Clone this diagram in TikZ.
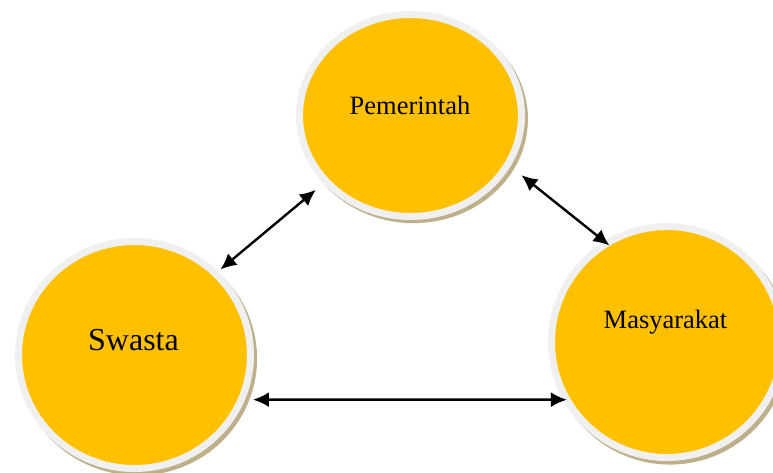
\documentclass[tikz,border=0pt]{standalone}
\usepackage{fontspec}
\setmainfont{Liberation Serif}
\usetikzlibrary{shapes.geometric,shadows,arrows.meta}
\definecolor{amber}{RGB}{255,192,0}
\definecolor{ringgrey}{RGB}{240,240,240}
\definecolor{sand}{RGB}{190,176,138}

\begin{document}
\begin{tikzpicture}[x=1pt,y=-1pt,
  bola/.style={ellipse,fill=amber,draw=ringgrey,line width=7pt,inner sep=0pt,
    drop shadow={shadow xshift=3pt,shadow yshift=-3.5pt,shadow scale=1.03,fill=sand,opacity=1}},
  teks/.style={anchor=base,font=\fontsize{26.5}{30}\selectfont},
  link/.style={line width=2.4pt,{Latex[length=16pt,width=15pt]}-{Latex[length=16pt,width=15pt]}}]
\clip (0,0) rectangle (773,472);
\node [bola,minimum width=222pt,minimum height=202pt] (pem) at (410.5,115.5) {};
\node [bola,minimum width=232pt,minimum height=227pt] (swa) at (134.5,355) {};
\node [bola,minimum width=231pt,minimum height=231pt] (mas) at (667,342) {};
\node [teks] (pem-t) at (410,114) {Pemerintah};
\node [teks,font=\fontsize{32}{36}\selectfont] (swa-t) at (133.5,350) {Swasta};
\node [teks] (mas-t) at (665.5,328) {Masyarakat};
\draw [link,shorten <=3pt,shorten >=10pt] (swa.45) -- (pem.218);
\draw [link,shorten <=14pt,shorten >=-7pt] (pem.333) -- (mas.122.5);
\draw [link,shorten <=8pt,shorten >=-4pt] (swa.-22.5) -- (mas.209.5);
\end{tikzpicture}
\end{document}
